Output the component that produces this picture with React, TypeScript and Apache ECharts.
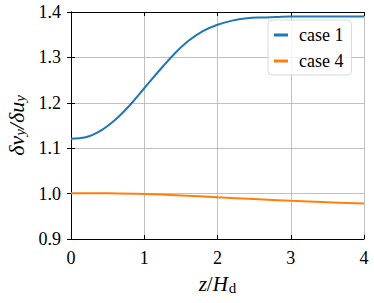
import React, { useEffect, useRef } from "react";
import * as echarts from "echarts";

const zCase1 = [0, 0.2, 0.4, 0.6, 0.8, 1.0, 1.2, 1.4, 1.6, 1.8, 2.0, 2.2, 2.4, 2.6, 2.8, 3.0, 3.5, 4.0];
const case1 = [1.121, 1.124, 1.138, 1.162, 1.194, 1.232, 1.27, 1.306, 1.336, 1.358, 1.372, 1.381, 1.386, 1.388, 1.389, 1.39, 1.39, 1.39];
const zCase4 = [0, 0.5, 1.0, 1.5, 2.0, 2.5, 3.0, 3.5, 4.0];
const case4 = [1.001, 1.0005, 0.999, 0.996, 0.992, 0.988, 0.984, 0.981, 0.978];
const xTicks = [0, 1, 2, 3, 4];

const FONT = "'Liberation Serif', 'DejaVu Serif', serif";

export default function App() {
  const ref = useRef<HTMLDivElement>(null);
  useEffect(() => {
    if (!ref.current) return;
    const chart = echarts.init(ref.current, undefined, { renderer: "svg" });
    const gridLine = { show: true, lineStyle: { color: "#b0b0b0", width: 0.8 } };
    const axisLine = { show: true, lineStyle: { color: "#000", width: 1 } };
    const tick = { show: true, inside: true, length: 4, lineStyle: { color: "#000" } };
    chart.setOption({
      animation: false,
      backgroundColor: "#fff",
      textStyle: { fontFamily: FONT },
      grid: { left: 71, right: 10, top: 12, bottom: 64, containLabel: false, outerBoundsMode: "none" },
      legend: {
        left: 268,
        top: 20,
        orient: "vertical",
        backgroundColor: "rgba(255,255,255,0.8)",
        borderColor: "#d8d8d8",
        borderWidth: 1,
        borderRadius: 4,
        padding: [6, 8, 5, 6],
        itemGap: 8,
        itemWidth: 14,
        itemHeight: 3,
        icon: "rect",
        textStyle: { fontFamily: FONT, fontSize: 18, color: "#000", padding: [0, 0, 0, 6] },
        data: ["case 1", "case 4"],
      },
      xAxis: [
        {
          type: "value",
          min: 0,
          max: 4,
          interval: 1,
          position: "bottom",
          axisLine,
          axisTick: tick,
          splitLine: gridLine,
          axisLabel: { fontFamily: FONT, fontSize: 18, color: "#000", margin: 10, formatter: (v: number) => xTicks.includes(v) ? String(v) : "" },
          name: "{i|z}{n|/}{i|H}{s|d}",
          nameLocation: "middle",
          nameGap: 33,
          nameTextStyle: {
            fontFamily: FONT,
            fontSize: 21,
            color: "#000",
            rich: {
              i: { fontFamily: FONT, fontSize: 21, fontStyle: "italic", color: "#000" },
              n: { fontFamily: FONT, fontSize: 21, color: "#000" },
              s: { fontFamily: FONT, fontSize: 15, color: "#000", padding: [8, 0, 0, 1] },
            },
          },
        },
        {
          type: "value",
          min: 0,
          max: 4,
          interval: 1,
          position: "top",
          axisLine,
          axisTick: tick,
          splitLine: { show: false },
          axisLabel: { show: false },
        },
      ],
      yAxis: [
        {
          type: "value",
          min: 0.9,
          max: 1.4,
          interval: 0.1,
          position: "left",
          axisLine,
          axisTick: tick,
          splitLine: gridLine,
          axisLabel: { fontFamily: FONT, fontSize: 18, color: "#000", margin: 10, formatter: (v: number) => v.toFixed(1) },
          name: "{n|δ}{i|v}{s|y}{n|/δ}{i|u}{s|y}",
          nameLocation: "middle",
          nameRotate: 90,
          nameGap: 43,
          nameTextStyle: {
            fontFamily: FONT,
            fontSize: 22,
            color: "#000",
            rich: {
              i: { fontFamily: FONT, fontSize: 22, fontStyle: "italic", color: "#000" },
              n: { fontFamily: FONT, fontSize: 22, fontStyle: "italic", color: "#000" },
              s: { fontFamily: FONT, fontSize: 15, fontStyle: "italic", color: "#000", padding: [8, 0, 0, 0] },
            },
          },
        },
        {
          type: "value",
          min: 0.9,
          max: 1.4,
          interval: 0.1,
          position: "right",
          axisLine,
          axisTick: tick,
          splitLine: { show: false },
          axisLabel: { show: false },
        },
      ],
      series: [
        {
          name: "case 1",
          type: "line",
          data: zCase1.map((z, i) => [z, case1[i]]),
          smooth: 0.4,
          showSymbol: false,
          lineStyle: { color: "#1f77b4", width: 2 },
          itemStyle: { color: "#1f77b4" },
        },
        {
          name: "case 4",
          type: "line",
          data: zCase4.map((z, i) => [z, case4[i]]),
          smooth: 0.4,
          showSymbol: false,
          lineStyle: { color: "#ff7f0e", width: 2 },
          itemStyle: { color: "#ff7f0e" },
        },
      ],
    });
    return () => chart.dispose();
  }, []);
  return <div ref={ref} style={{ width: 374, height: 303, position: "absolute", left: 0, top: 0 }} />;
}
